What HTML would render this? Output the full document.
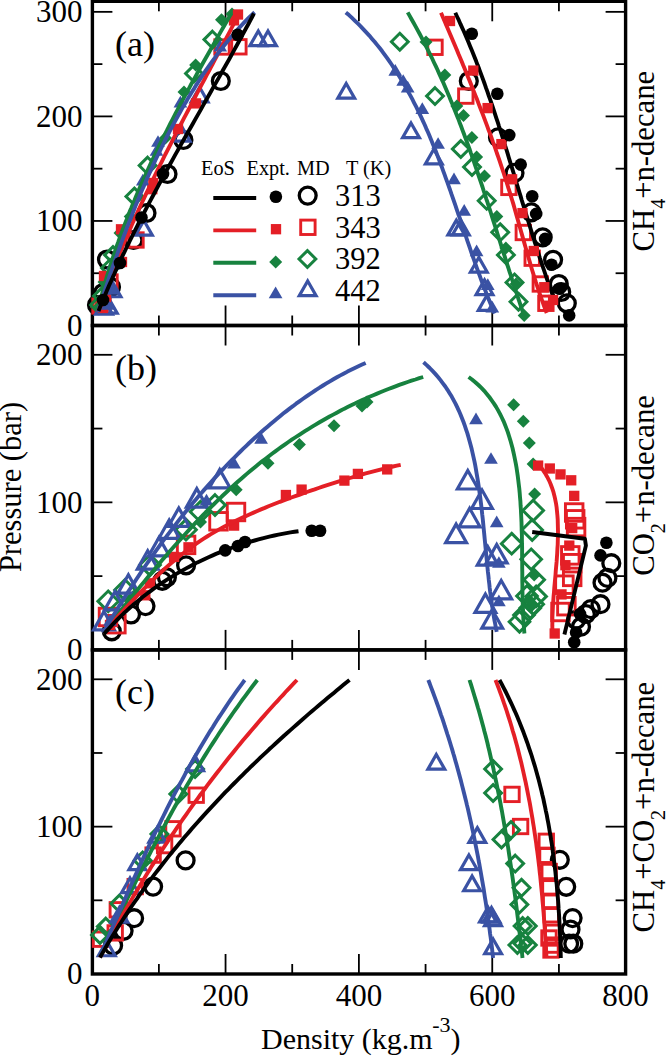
<!DOCTYPE html>
<html><head><meta charset="utf-8"><style>
html,body{margin:0;padding:0;background:#fff;width:666px;height:1056px;overflow:hidden;}
svg{display:block;font-family:"Liberation Serif",serif;}
</style></head><body>
<svg width="666" height="1056" viewBox="0 0 666 1056">
<rect width="666" height="1056" fill="#fff"/>
<rect x="92.4" y="1.3" width="533.2" height="324.2" fill="none" stroke="#000" stroke-width="3.4"/>
<rect x="92.4" y="325.5" width="533.2" height="324.4" fill="none" stroke="#000" stroke-width="3.4"/>
<rect x="92.4" y="649.9" width="533.2" height="324.1" fill="none" stroke="#000" stroke-width="3.4"/>
<line x1="158.88" y1="325.5" x2="158.88" y2="315.5" stroke="#000" stroke-width="1.8"/>
<line x1="158.88" y1="1.3" x2="158.88" y2="11.3" stroke="#000" stroke-width="1.8"/>
<line x1="225.55" y1="325.5" x2="225.55" y2="305.5" stroke="#000" stroke-width="1.8"/>
<line x1="225.55" y1="1.3" x2="225.55" y2="21.3" stroke="#000" stroke-width="1.8"/>
<line x1="292.22" y1="325.5" x2="292.22" y2="315.5" stroke="#000" stroke-width="1.8"/>
<line x1="292.22" y1="1.3" x2="292.22" y2="11.3" stroke="#000" stroke-width="1.8"/>
<line x1="358.90" y1="325.5" x2="358.90" y2="305.5" stroke="#000" stroke-width="1.8"/>
<line x1="358.90" y1="1.3" x2="358.90" y2="21.3" stroke="#000" stroke-width="1.8"/>
<line x1="425.57" y1="325.5" x2="425.57" y2="315.5" stroke="#000" stroke-width="1.8"/>
<line x1="425.57" y1="1.3" x2="425.57" y2="11.3" stroke="#000" stroke-width="1.8"/>
<line x1="492.25" y1="325.5" x2="492.25" y2="305.5" stroke="#000" stroke-width="1.8"/>
<line x1="492.25" y1="1.3" x2="492.25" y2="21.3" stroke="#000" stroke-width="1.8"/>
<line x1="558.92" y1="325.5" x2="558.92" y2="315.5" stroke="#000" stroke-width="1.8"/>
<line x1="558.92" y1="1.3" x2="558.92" y2="11.3" stroke="#000" stroke-width="1.8"/>
<line x1="158.88" y1="649.9" x2="158.88" y2="639.9" stroke="#000" stroke-width="1.8"/>
<line x1="158.88" y1="325.5" x2="158.88" y2="335.5" stroke="#000" stroke-width="1.8"/>
<line x1="225.55" y1="649.9" x2="225.55" y2="629.9" stroke="#000" stroke-width="1.8"/>
<line x1="225.55" y1="325.5" x2="225.55" y2="345.5" stroke="#000" stroke-width="1.8"/>
<line x1="292.22" y1="649.9" x2="292.22" y2="639.9" stroke="#000" stroke-width="1.8"/>
<line x1="292.22" y1="325.5" x2="292.22" y2="335.5" stroke="#000" stroke-width="1.8"/>
<line x1="358.90" y1="649.9" x2="358.90" y2="629.9" stroke="#000" stroke-width="1.8"/>
<line x1="358.90" y1="325.5" x2="358.90" y2="345.5" stroke="#000" stroke-width="1.8"/>
<line x1="425.57" y1="649.9" x2="425.57" y2="639.9" stroke="#000" stroke-width="1.8"/>
<line x1="425.57" y1="325.5" x2="425.57" y2="335.5" stroke="#000" stroke-width="1.8"/>
<line x1="492.25" y1="649.9" x2="492.25" y2="629.9" stroke="#000" stroke-width="1.8"/>
<line x1="492.25" y1="325.5" x2="492.25" y2="345.5" stroke="#000" stroke-width="1.8"/>
<line x1="558.92" y1="649.9" x2="558.92" y2="639.9" stroke="#000" stroke-width="1.8"/>
<line x1="558.92" y1="325.5" x2="558.92" y2="335.5" stroke="#000" stroke-width="1.8"/>
<line x1="158.88" y1="974.0" x2="158.88" y2="964.0" stroke="#000" stroke-width="1.8"/>
<line x1="158.88" y1="649.9" x2="158.88" y2="659.9" stroke="#000" stroke-width="1.8"/>
<line x1="225.55" y1="974.0" x2="225.55" y2="954.0" stroke="#000" stroke-width="1.8"/>
<line x1="225.55" y1="649.9" x2="225.55" y2="669.9" stroke="#000" stroke-width="1.8"/>
<line x1="292.22" y1="974.0" x2="292.22" y2="964.0" stroke="#000" stroke-width="1.8"/>
<line x1="292.22" y1="649.9" x2="292.22" y2="659.9" stroke="#000" stroke-width="1.8"/>
<line x1="358.90" y1="974.0" x2="358.90" y2="954.0" stroke="#000" stroke-width="1.8"/>
<line x1="358.90" y1="649.9" x2="358.90" y2="669.9" stroke="#000" stroke-width="1.8"/>
<line x1="425.57" y1="974.0" x2="425.57" y2="964.0" stroke="#000" stroke-width="1.8"/>
<line x1="425.57" y1="649.9" x2="425.57" y2="659.9" stroke="#000" stroke-width="1.8"/>
<line x1="492.25" y1="974.0" x2="492.25" y2="954.0" stroke="#000" stroke-width="1.8"/>
<line x1="492.25" y1="649.9" x2="492.25" y2="669.9" stroke="#000" stroke-width="1.8"/>
<line x1="558.92" y1="974.0" x2="558.92" y2="964.0" stroke="#000" stroke-width="1.8"/>
<line x1="558.92" y1="649.9" x2="558.92" y2="659.9" stroke="#000" stroke-width="1.8"/>
<line x1="92.4" y1="273.23" x2="102.4" y2="273.23" stroke="#000" stroke-width="1.8"/>
<line x1="625.6" y1="273.23" x2="615.6" y2="273.23" stroke="#000" stroke-width="1.8"/>
<line x1="92.4" y1="220.95" x2="112.4" y2="220.95" stroke="#000" stroke-width="1.8"/>
<line x1="625.6" y1="220.95" x2="605.6" y2="220.95" stroke="#000" stroke-width="1.8"/>
<line x1="92.4" y1="168.67" x2="102.4" y2="168.67" stroke="#000" stroke-width="1.8"/>
<line x1="625.6" y1="168.67" x2="615.6" y2="168.67" stroke="#000" stroke-width="1.8"/>
<line x1="92.4" y1="116.40" x2="112.4" y2="116.40" stroke="#000" stroke-width="1.8"/>
<line x1="625.6" y1="116.40" x2="605.6" y2="116.40" stroke="#000" stroke-width="1.8"/>
<line x1="92.4" y1="64.12" x2="102.4" y2="64.12" stroke="#000" stroke-width="1.8"/>
<line x1="625.6" y1="64.12" x2="615.6" y2="64.12" stroke="#000" stroke-width="1.8"/>
<line x1="92.4" y1="11.85" x2="112.4" y2="11.85" stroke="#000" stroke-width="1.8"/>
<line x1="625.6" y1="11.85" x2="605.6" y2="11.85" stroke="#000" stroke-width="1.8"/>
<line x1="92.4" y1="576.12" x2="102.4" y2="576.12" stroke="#000" stroke-width="1.8"/>
<line x1="625.6" y1="576.12" x2="615.6" y2="576.12" stroke="#000" stroke-width="1.8"/>
<line x1="92.4" y1="502.35" x2="112.4" y2="502.35" stroke="#000" stroke-width="1.8"/>
<line x1="625.6" y1="502.35" x2="605.6" y2="502.35" stroke="#000" stroke-width="1.8"/>
<line x1="92.4" y1="428.57" x2="102.4" y2="428.57" stroke="#000" stroke-width="1.8"/>
<line x1="625.6" y1="428.57" x2="615.6" y2="428.57" stroke="#000" stroke-width="1.8"/>
<line x1="92.4" y1="354.80" x2="112.4" y2="354.80" stroke="#000" stroke-width="1.8"/>
<line x1="625.6" y1="354.80" x2="605.6" y2="354.80" stroke="#000" stroke-width="1.8"/>
<line x1="92.4" y1="900.33" x2="102.4" y2="900.33" stroke="#000" stroke-width="1.8"/>
<line x1="625.6" y1="900.33" x2="615.6" y2="900.33" stroke="#000" stroke-width="1.8"/>
<line x1="92.4" y1="826.65" x2="112.4" y2="826.65" stroke="#000" stroke-width="1.8"/>
<line x1="625.6" y1="826.65" x2="605.6" y2="826.65" stroke="#000" stroke-width="1.8"/>
<line x1="92.4" y1="752.98" x2="102.4" y2="752.98" stroke="#000" stroke-width="1.8"/>
<line x1="625.6" y1="752.98" x2="615.6" y2="752.98" stroke="#000" stroke-width="1.8"/>
<line x1="92.4" y1="679.30" x2="112.4" y2="679.30" stroke="#000" stroke-width="1.8"/>
<line x1="625.6" y1="679.30" x2="605.6" y2="679.30" stroke="#000" stroke-width="1.8"/>
<text x="82.5" y="335.7" font-size="31" text-anchor="end" >0</text>
<text x="82.5" y="231.14999999999998" font-size="31" text-anchor="end" >100</text>
<text x="82.5" y="126.59999999999998" font-size="31" text-anchor="end" >200</text>
<text x="82.5" y="22.049999999999965" font-size="31" text-anchor="end" >300</text>
<text x="82.5" y="660.1" font-size="31" text-anchor="end" >0</text>
<text x="82.5" y="984.2" font-size="31" text-anchor="end" >0</text>
<text x="82.5" y="512.55" font-size="31" text-anchor="end" >100</text>
<text x="82.5" y="836.85" font-size="31" text-anchor="end" >100</text>
<text x="82.5" y="364.99999999999994" font-size="31" text-anchor="end" >200</text>
<text x="82.5" y="689.5" font-size="31" text-anchor="end" >200</text>
<text x="92.2" y="1005.5" font-size="31" text-anchor="middle" >0</text>
<text x="225.55" y="1005.5" font-size="31" text-anchor="middle" >200</text>
<text x="358.9" y="1005.5" font-size="31" text-anchor="middle" >400</text>
<text x="492.24999999999994" y="1005.5" font-size="31" text-anchor="middle" >600</text>
<text x="625.6" y="1005.5" font-size="31" text-anchor="middle" >800</text>
<text x="261" y="1049" font-size="30">Density (kg.m<tspan font-size="22" dy="-17.5" dx="-0.5">-3</tspan><tspan dy="17.5">)</tspan></text>
<text transform="translate(21,487) rotate(-90)" font-size="30.5" text-anchor="middle">Pressure (bar)</text>
<text x="115" y="56" font-size="36" text-anchor="start" >(a)</text>
<text x="115" y="380" font-size="36" text-anchor="start" >(b)</text>
<text x="115" y="704" font-size="36" text-anchor="start" >(c)</text>
<g font-size="20.3">
<text x="201" y="174.6">EoS</text><text x="246.5" y="174.6">Expt.</text><text x="297" y="174.6">MD</text><text x="346" y="174.6">T (K)</text>
</g>
<circle cx="97" cy="305" r="8.45" fill="none" stroke="#000" stroke-width="3.3"/>
<circle cx="103" cy="293" r="8.45" fill="none" stroke="#000" stroke-width="3.3"/>
<circle cx="111" cy="287" r="8.45" fill="none" stroke="#000" stroke-width="3.3"/>
<circle cx="107" cy="259.5" r="8.45" fill="none" stroke="#000" stroke-width="3.3"/>
<circle cx="133.5" cy="240" r="8.45" fill="none" stroke="#000" stroke-width="3.3"/>
<circle cx="146.5" cy="213" r="8.45" fill="none" stroke="#000" stroke-width="3.3"/>
<circle cx="167.5" cy="174" r="8.45" fill="none" stroke="#000" stroke-width="3.3"/>
<circle cx="183.4" cy="140" r="8.45" fill="none" stroke="#000" stroke-width="3.3"/>
<circle cx="220.8" cy="81" r="8.45" fill="none" stroke="#000" stroke-width="3.3"/>
<rect x="95.80" y="298.80" width="14.40" height="14.40" fill="none" stroke="#e41f26" stroke-width="2.9"/>
<rect x="92.80" y="298.80" width="14.40" height="14.40" fill="none" stroke="#e41f26" stroke-width="2.9"/>
<rect x="102.80" y="274.80" width="14.40" height="14.40" fill="none" stroke="#e41f26" stroke-width="2.9"/>
<rect x="128.80" y="232.80" width="14.40" height="14.40" fill="none" stroke="#e41f26" stroke-width="2.9"/>
<rect x="214.80" y="39.80" width="14.40" height="14.40" fill="none" stroke="#e41f26" stroke-width="2.9"/>
<rect x="231.70" y="39.60" width="14.40" height="14.40" fill="none" stroke="#e41f26" stroke-width="2.9"/>
<path d="M99,296.60 L107.40,305 L99,313.40 L90.60,305Z" fill="none" stroke="#17823f" stroke-width="3"/>
<path d="M102,287.60 L110.40,296 L102,304.40 L93.60,296Z" fill="none" stroke="#17823f" stroke-width="3"/>
<path d="M110,259.60 L118.40,268 L110,276.40 L101.60,268Z" fill="none" stroke="#17823f" stroke-width="3"/>
<path d="M113,246.60 L121.40,255 L113,263.40 L104.60,255Z" fill="none" stroke="#17823f" stroke-width="3"/>
<path d="M134.4,188.10 L142.80,196.5 L134.4,204.90 L126.00,196.5Z" fill="none" stroke="#17823f" stroke-width="3"/>
<path d="M147.6,157.20 L156.00,165.6 L147.6,174.00 L139.20,165.6Z" fill="none" stroke="#17823f" stroke-width="3"/>
<path d="M194,65.10 L202.40,73.5 L194,81.90 L185.60,73.5Z" fill="none" stroke="#17823f" stroke-width="3"/>
<path d="M212.4,31.20 L220.80,39.6 L212.4,48.00 L204.00,39.6Z" fill="none" stroke="#17823f" stroke-width="3"/>
<path d="M104,299.45 L112.40,314.15 L95.60,314.15Z" fill="none" stroke="#3a52a4" stroke-width="3.2" stroke-miterlimit="10"/>
<path d="M108.8,298.45 L117.20,313.15 L100.40,313.15Z" fill="none" stroke="#3a52a4" stroke-width="3.2" stroke-miterlimit="10"/>
<path d="M112.5,282.05 L120.90,296.75 L104.10,296.75Z" fill="none" stroke="#3a52a4" stroke-width="3.2" stroke-miterlimit="10"/>
<path d="M143.9,220.45 L152.30,235.15 L135.50,235.15Z" fill="none" stroke="#3a52a4" stroke-width="3.2" stroke-miterlimit="10"/>
<path d="M181.6,126.35 L190.00,141.05 L173.20,141.05Z" fill="none" stroke="#3a52a4" stroke-width="3.2" stroke-miterlimit="10"/>
<path d="M199.6,87.25 L208.00,101.95 L191.20,101.95Z" fill="none" stroke="#3a52a4" stroke-width="3.2" stroke-miterlimit="10"/>
<path d="M258.3,30.95 L266.70,45.65 L249.90,45.65Z" fill="none" stroke="#3a52a4" stroke-width="3.2" stroke-miterlimit="10"/>
<path d="M268,30.95 L276.40,45.65 L259.60,45.65Z" fill="none" stroke="#3a52a4" stroke-width="3.2" stroke-miterlimit="10"/>
<path d="M100,299.50 L106.50,306 L100,312.50 L93.50,306Z" fill="#17823f"/>
<path d="M104,275.50 L110.50,282 L104,288.50 L97.50,282Z" fill="#17823f"/>
<path d="M120,226.50 L126.50,233 L120,239.50 L113.50,233Z" fill="#17823f"/>
<path d="M130.2,210.00 L136.70,216.5 L130.2,223.00 L123.70,216.5Z" fill="#17823f"/>
<path d="M165.5,131.50 L172.00,138 L165.5,144.50 L159.00,138Z" fill="#17823f"/>
<path d="M184,85.50 L190.50,92 L184,98.50 L177.50,92Z" fill="#17823f"/>
<path d="M195.6,58.40 L202.10,64.9 L195.6,71.40 L189.10,64.9Z" fill="#17823f"/>
<path d="M221.5,13.30 L228.00,19.8 L221.5,26.30 L215.00,19.8Z" fill="#17823f"/>
<path d="M232,7.50 L238.50,14 L232,20.50 L225.50,14Z" fill="#17823f"/>
<rect x="97.85" y="302.85" width="10.3" height="10.3" fill="#e41f26"/>
<rect x="100.85" y="291.85" width="10.3" height="10.3" fill="#e41f26"/>
<rect x="98.85" y="270.85" width="10.3" height="10.3" fill="#e41f26"/>
<rect x="115.85" y="224.15" width="10.3" height="10.3" fill="#e41f26"/>
<rect x="116.85" y="256.85" width="10.3" height="10.3" fill="#e41f26"/>
<rect x="148.15" y="177.85" width="10.3" height="10.3" fill="#e41f26"/>
<rect x="147.15" y="184.05" width="10.3" height="10.3" fill="#e41f26"/>
<rect x="190.85" y="98.25" width="10.3" height="10.3" fill="#e41f26"/>
<rect x="172.85" y="123.85" width="10.3" height="10.3" fill="#e41f26"/>
<rect x="228.85" y="15.25" width="10.3" height="10.3" fill="#e41f26"/>
<rect x="232.85" y="9.35" width="10.3" height="10.3" fill="#e41f26"/>
<path d="M107.6,298.15 L114.45,309.85 L100.75,309.85Z" fill="#3a52a4"/>
<path d="M113,283.15 L119.85,294.85 L106.15,294.85Z" fill="#3a52a4"/>
<path d="M112.8,258.15 L119.65,269.85 L105.95,269.85Z" fill="#3a52a4"/>
<path d="M142.8,173.85 L149.65,185.55 L135.95,185.55Z" fill="#3a52a4"/>
<path d="M158,135.15 L164.85,146.85 L151.15,146.85Z" fill="#3a52a4"/>
<path d="M156.5,144.15 L163.35,155.85 L149.65,155.85Z" fill="#3a52a4"/>
<path d="M180.4,95.75 L187.25,107.45 L173.55,107.45Z" fill="#3a52a4"/>
<path d="M220.2,39.75 L227.05,51.45 L213.35,51.45Z" fill="#3a52a4"/>
<path d="M97.5,312.0 L98.5,308.0 L99.4,304.1 L100.4,300.1 L101.5,296.2 L102.5,292.2 L103.6,288.3 L104.7,284.4 L105.8,280.5 L106.9,276.6 L108.1,272.7 L109.3,268.8 L110.5,265.0 L111.8,261.1 L113.0,257.2 L114.3,253.4 L115.6,249.6 L116.9,245.7 L118.3,241.9 L119.6,238.1 L121.0,234.3 L122.4,230.5 L123.9,226.7 L125.3,222.9 L126.8,219.2 L128.2,215.4 L129.7,211.6 L131.3,207.9 L132.8,204.1 L134.4,200.4 L135.9,196.7 L137.5,193.0 L139.1,189.2 L140.7,185.5 L142.4,181.8 L144.0,178.1 L145.7,174.5 L147.4,170.8 L149.1,167.1 L150.8,163.4 L152.5,159.8 L154.2,156.1 L156.0,152.5 L157.8,148.8 L159.5,145.2 L161.3,141.5 L163.1,137.9 L164.9,134.3 L166.8,130.7 L168.6,127.0 L170.4,123.4 L172.3,119.8 L174.2,116.2 L176.0,112.6 L177.9,109.1 L179.8,105.5 L181.7,101.9 L183.6,98.3 L185.5,94.7 L187.5,91.2 L189.4,87.6 L191.3,84.0 L193.3,80.5 L195.3,76.9 L197.2,73.4 L199.2,69.8 L201.2,66.3 L203.1,62.8 L205.1,59.2 L207.1,55.7 L209.1,52.2 L211.1,48.6 L213.1,45.1 L215.1,41.6 L217.1,38.1 L219.1,34.6 L221.1,31.1 L223.2,27.5 L225.2,24.0 L227.2,20.5 L229.2,17.0 L231.2,13.5" fill="none" stroke="#17823f" stroke-width="3.9" stroke-linejoin="round"/>
<path d="M98.0,312.0 L99.3,308.1 L100.6,304.2 L101.9,300.4 L103.3,296.5 L104.6,292.7 L106.0,288.8 L107.4,285.0 L108.8,281.2 L110.3,277.3 L111.7,273.5 L113.2,269.7 L114.7,265.9 L116.2,262.1 L117.7,258.3 L119.2,254.5 L120.8,250.8 L122.4,247.0 L123.9,243.2 L125.5,239.5 L127.1,235.7 L128.7,232.0 L130.4,228.3 L132.0,224.5 L133.7,220.8 L135.3,217.1 L137.0,213.4 L138.7,209.7 L140.4,206.0 L142.1,202.3 L143.9,198.6 L145.6,194.9 L147.4,191.2 L149.1,187.5 L150.9,183.8 L152.7,180.1 L154.4,176.5 L156.2,172.8 L158.0,169.2 L159.8,165.5 L161.7,161.8 L163.5,158.2 L165.3,154.5 L167.2,150.9 L169.0,147.3 L170.9,143.6 L172.7,140.0 L174.6,136.3 L176.4,132.7 L178.3,129.1 L180.2,125.5 L182.1,121.8 L184.0,118.2 L185.9,114.6 L187.8,111.0 L189.7,107.4 L191.6,103.7 L193.5,100.1 L195.4,96.5 L197.3,92.9 L199.2,89.3 L201.1,85.7 L203.0,82.1 L204.9,78.5 L206.8,74.9 L208.8,71.3 L210.7,67.6 L212.6,64.0 L214.5,60.4 L216.4,56.8 L218.3,53.2 L220.2,49.6 L222.1,46.0 L224.0,42.4 L226.0,38.8 L227.9,35.2 L229.8,31.6 L231.6,28.0 L233.5,24.3 L235.4,20.7 L237.3,17.1 L239.2,13.5" fill="none" stroke="#e41f26" stroke-width="3.9" stroke-linejoin="round"/>
<path d="M98.0,312.0 L99.2,308.2 L100.4,304.4 L101.6,300.6 L102.8,296.8 L104.1,293.0 L105.3,289.2 L106.6,285.3 L107.8,281.5 L109.1,277.7 L110.4,273.9 L111.7,270.0 L113.0,266.2 L114.4,262.4 L115.7,258.5 L117.1,254.7 L118.4,250.8 L119.8,247.0 L121.2,243.2 L122.6,239.3 L124.0,235.5 L125.5,231.7 L126.9,227.8 L128.4,224.0 L129.9,220.2 L131.4,216.4 L132.9,212.5 L134.4,208.7 L135.9,204.9 L137.5,201.1 L139.1,197.3 L140.6,193.5 L142.2,189.7 L143.9,186.0 L145.5,182.2 L147.1,178.4 L148.8,174.7 L150.5,170.9 L152.2,167.2 L153.9,163.4 L155.6,159.7 L157.4,156.0 L159.2,152.3 L161.0,148.6 L162.8,145.0 L164.6,141.3 L166.4,137.6 L168.3,134.0 L170.2,130.4 L172.1,126.8 L174.0,123.2 L176.0,119.6 L177.9,116.0 L179.9,112.5 L181.9,108.9 L183.9,105.4 L186.0,101.9 L188.0,98.4 L190.1,94.9 L192.2,91.5 L194.4,88.1 L196.5,84.6 L198.7,81.2 L200.9,77.9 L203.1,74.5 L205.3,71.2 L207.6,67.9 L209.9,64.6 L212.2,61.3 L214.6,58.1 L216.9,54.8 L219.4,51.6 L221.8,48.4 L224.3,45.3 L226.8,42.2 L229.4,39.0 L232.0,36.0 L234.6,32.9 L237.3,29.9 L240.1,26.9 L242.9,23.9 L245.7,20.9 L248.6,18.0 L251.6,15.1 L254.6,12.3" fill="none" stroke="#3a52a4" stroke-width="3.9" stroke-linejoin="round"/>
<path d="M98.5,311.0 L100.0,307.2 L101.5,303.5 L103.1,299.7 L104.7,296.0 L106.2,292.2 L107.8,288.5 L109.4,284.8 L111.1,281.1 L112.7,277.4 L114.4,273.7 L116.0,270.0 L117.7,266.3 L119.4,262.6 L121.1,259.0 L122.8,255.3 L124.6,251.7 L126.3,248.0 L128.1,244.4 L129.9,240.7 L131.7,237.1 L133.5,233.5 L135.3,229.9 L137.1,226.3 L138.9,222.6 L140.8,219.0 L142.6,215.4 L144.5,211.9 L146.3,208.3 L148.2,204.7 L150.1,201.1 L152.0,197.5 L153.9,194.0 L155.8,190.4 L157.7,186.8 L159.6,183.3 L161.6,179.7 L163.5,176.2 L165.4,172.6 L167.4,169.1 L169.3,165.5 L171.3,162.0 L173.3,158.4 L175.2,154.9 L177.2,151.4 L179.2,147.8 L181.1,144.3 L183.1,140.8 L185.1,137.3 L187.1,133.7 L189.1,130.2 L191.1,126.7 L193.1,123.2 L195.1,119.6 L197.1,116.1 L199.1,112.6 L201.1,109.1 L203.0,105.6 L205.0,102.0 L207.0,98.5 L209.0,95.0 L211.0,91.5 L213.0,87.9 L215.0,84.4 L217.0,80.9 L219.0,77.4 L221.0,73.8 L222.9,70.3 L224.9,66.8 L226.9,63.2 L228.9,59.7 L230.8,56.2 L232.8,52.6 L234.7,49.1 L236.7,45.5 L238.6,42.0 L240.6,38.4 L242.5,34.9 L244.4,31.3 L246.3,27.8 L248.3,24.2 L250.2,20.6 L252.1,17.0 L253.9,13.5" fill="none" stroke="#000" stroke-width="3.9" stroke-linejoin="round"/>
<circle cx="103" cy="300" r="6.3" fill="#000"/>
<circle cx="120" cy="263" r="6.3" fill="#000"/>
<circle cx="141.5" cy="217.5" r="6.3" fill="#000"/>
<circle cx="163" cy="174" r="6.3" fill="#000"/>
<circle cx="237.7" cy="34.8" r="6.3" fill="#000"/>
<circle cx="468.8" cy="81" r="8.45" fill="none" stroke="#000" stroke-width="3.3"/>
<circle cx="498" cy="137.4" r="8.45" fill="none" stroke="#000" stroke-width="3.3"/>
<circle cx="514.5" cy="172.9" r="8.45" fill="none" stroke="#000" stroke-width="3.3"/>
<circle cx="531.4" cy="212.3" r="8.45" fill="none" stroke="#000" stroke-width="3.3"/>
<circle cx="542.7" cy="237.3" r="8.45" fill="none" stroke="#000" stroke-width="3.3"/>
<circle cx="553.1" cy="259.8" r="8.45" fill="none" stroke="#000" stroke-width="3.3"/>
<circle cx="558.8" cy="284" r="8.45" fill="none" stroke="#000" stroke-width="3.3"/>
<circle cx="561.2" cy="292" r="8.45" fill="none" stroke="#000" stroke-width="3.3"/>
<circle cx="566.8" cy="303.3" r="8.45" fill="none" stroke="#000" stroke-width="3.3"/>
<rect x="427.80" y="40.10" width="14.40" height="14.40" fill="none" stroke="#e41f26" stroke-width="2.9"/>
<rect x="458.60" y="88.90" width="14.40" height="14.40" fill="none" stroke="#e41f26" stroke-width="2.9"/>
<rect x="501.70" y="180.20" width="14.40" height="14.40" fill="none" stroke="#e41f26" stroke-width="2.9"/>
<rect x="516.10" y="225.30" width="14.40" height="14.40" fill="none" stroke="#e41f26" stroke-width="2.9"/>
<rect x="525.00" y="251.00" width="14.40" height="14.40" fill="none" stroke="#e41f26" stroke-width="2.9"/>
<rect x="533.10" y="276.80" width="14.40" height="14.40" fill="none" stroke="#e41f26" stroke-width="2.9"/>
<rect x="538.70" y="296.10" width="14.40" height="14.40" fill="none" stroke="#e41f26" stroke-width="2.9"/>
<path d="M399.8,33.30 L408.20,41.7 L399.8,50.10 L391.40,41.7Z" fill="none" stroke="#17823f" stroke-width="3"/>
<path d="M435,87.70 L443.40,96.1 L435,104.50 L426.60,96.1Z" fill="none" stroke="#17823f" stroke-width="3"/>
<path d="M460.8,140.60 L469.20,149 L460.8,157.40 L452.40,149Z" fill="none" stroke="#17823f" stroke-width="3"/>
<path d="M472,158.60 L480.40,167 L472,175.40 L463.60,167Z" fill="none" stroke="#17823f" stroke-width="3"/>
<path d="M486.7,192.40 L495.10,200.8 L486.7,209.20 L478.30,200.8Z" fill="none" stroke="#17823f" stroke-width="3"/>
<path d="M500.2,223.90 L508.60,232.3 L500.2,240.70 L491.80,232.3Z" fill="none" stroke="#17823f" stroke-width="3"/>
<path d="M505.9,246.50 L514.30,254.9 L505.9,263.30 L497.50,254.9Z" fill="none" stroke="#17823f" stroke-width="3"/>
<path d="M514.5,274.00 L522.90,282.4 L514.5,290.80 L506.10,282.4Z" fill="none" stroke="#17823f" stroke-width="3"/>
<path d="M518.5,293.30 L526.90,301.7 L518.5,310.10 L510.10,301.7Z" fill="none" stroke="#17823f" stroke-width="3"/>
<path d="M346.2,83.45 L354.60,98.15 L337.80,98.15Z" fill="none" stroke="#3a52a4" stroke-width="3.2" stroke-miterlimit="10"/>
<path d="M411,122.95 L419.40,137.65 L402.60,137.65Z" fill="none" stroke="#3a52a4" stroke-width="3.2" stroke-miterlimit="10"/>
<path d="M433.8,149.25 L442.20,163.95 L425.40,163.95Z" fill="none" stroke="#3a52a4" stroke-width="3.2" stroke-miterlimit="10"/>
<path d="M456.3,220.15 L464.70,234.85 L447.90,234.85Z" fill="none" stroke="#3a52a4" stroke-width="3.2" stroke-miterlimit="10"/>
<path d="M460.8,220.15 L469.20,234.85 L452.40,234.85Z" fill="none" stroke="#3a52a4" stroke-width="3.2" stroke-miterlimit="10"/>
<path d="M478.8,257.35 L487.20,272.05 L470.40,272.05Z" fill="none" stroke="#3a52a4" stroke-width="3.2" stroke-miterlimit="10"/>
<path d="M484.5,279.85 L492.90,294.55 L476.10,294.55Z" fill="none" stroke="#3a52a4" stroke-width="3.2" stroke-miterlimit="10"/>
<path d="M486.7,295.65 L495.10,310.35 L478.30,310.35Z" fill="none" stroke="#3a52a4" stroke-width="3.2" stroke-miterlimit="10"/>
<path d="M407.7,12.4 L409.7,15.9 L411.7,19.5 L413.7,23.0 L415.7,26.6 L417.6,30.1 L419.6,33.7 L421.5,37.3 L423.3,40.9 L425.2,44.5 L427.0,48.1 L428.8,51.8 L430.6,55.4 L432.4,59.0 L434.1,62.7 L435.9,66.4 L437.6,70.0 L439.2,73.7 L440.9,77.4 L442.6,81.1 L444.2,84.8 L445.8,88.5 L447.4,92.2 L449.0,95.9 L450.5,99.7 L452.1,103.4 L453.6,107.2 L455.1,110.9 L456.6,114.7 L458.1,118.4 L459.5,122.2 L461.0,126.0 L462.4,129.8 L463.8,133.5 L465.2,137.3 L466.6,141.1 L468.0,144.9 L469.4,148.7 L470.7,152.6 L472.1,156.4 L473.4,160.2 L474.7,164.0 L476.0,167.8 L477.3,171.7 L478.6,175.5 L479.9,179.3 L481.2,183.2 L482.5,187.0 L483.7,190.9 L485.0,194.7 L486.2,198.6 L487.5,202.4 L488.7,206.3 L490.0,210.1 L491.2,214.0 L492.4,217.8 L493.6,221.7 L494.9,225.6 L496.1,229.4 L497.3,233.3 L498.5,237.1 L499.8,241.0 L501.0,244.9 L502.2,248.7 L503.4,252.6 L504.7,256.4 L505.9,260.3 L507.1,264.2 L508.4,268.0 L509.6,271.9 L510.9,275.7 L512.1,279.6 L513.4,283.4 L514.6,287.3 L515.9,291.1 L517.2,295.0 L518.4,298.8 L519.7,302.7 L521.0,306.5 L522.3,310.3 L523.7,314.2 L525.0,318.0" fill="none" stroke="#17823f" stroke-width="3.9" stroke-linejoin="round"/>
<path d="M441.0,12.8 L442.6,16.5 L444.2,20.2 L445.8,24.0 L447.4,27.7 L449.0,31.4 L450.6,35.2 L452.2,38.9 L453.8,42.7 L455.4,46.4 L457.0,50.2 L458.5,54.0 L460.1,57.7 L461.7,61.5 L463.2,65.3 L464.8,69.1 L466.4,72.9 L467.9,76.7 L469.5,80.5 L471.0,84.3 L472.5,88.1 L474.0,91.9 L475.5,95.7 L477.1,99.6 L478.5,103.4 L480.0,107.2 L481.5,111.1 L483.0,114.9 L484.4,118.7 L485.9,122.6 L487.3,126.4 L488.7,130.3 L490.2,134.1 L491.6,138.0 L492.9,141.9 L494.3,145.7 L495.7,149.6 L497.0,153.5 L498.4,157.3 L499.7,161.2 L501.0,165.1 L502.3,169.0 L503.6,172.8 L504.8,176.7 L506.1,180.6 L507.3,184.5 L508.5,188.4 L509.8,192.3 L510.9,196.2 L512.1,200.0 L513.3,203.9 L514.4,207.8 L515.5,211.7 L516.6,215.6 L517.7,219.5 L518.8,223.4 L519.9,227.3 L521.0,231.2 L522.1,235.1 L523.2,239.0 L524.3,242.9 L525.4,246.8 L526.5,250.7 L527.6,254.6 L528.8,258.5 L529.9,262.4 L531.0,266.3 L532.2,270.2 L533.4,274.1 L534.6,278.0 L535.8,281.9 L537.1,285.8 L538.4,289.7 L539.7,293.6 L541.0,297.5 L542.4,301.4 L543.8,305.3 L545.2,309.1 L546.7,313.0" fill="none" stroke="#e41f26" stroke-width="3.9" stroke-linejoin="round"/>
<path d="M345.8,12.4 L349.0,15.1 L352.0,17.9 L355.0,20.8 L358.0,23.7 L360.9,26.6 L363.7,29.6 L366.5,32.6 L369.3,35.6 L371.9,38.7 L374.6,41.8 L377.1,44.9 L379.7,48.1 L382.2,51.3 L384.6,54.6 L387.0,57.8 L389.3,61.1 L391.6,64.5 L393.8,67.8 L396.1,71.2 L398.2,74.6 L400.3,78.0 L402.4,81.5 L404.5,85.0 L406.5,88.5 L408.4,92.1 L410.4,95.6 L412.3,99.2 L414.1,102.8 L416.0,106.4 L417.8,110.1 L419.5,113.7 L421.3,117.4 L423.0,121.1 L424.7,124.8 L426.3,128.6 L428.0,132.3 L429.6,136.1 L431.2,139.9 L432.7,143.7 L434.3,147.5 L435.8,151.3 L437.3,155.1 L438.8,159.0 L440.2,162.8 L441.7,166.7 L443.1,170.6 L444.5,174.4 L445.9,178.3 L447.3,182.2 L448.7,186.1 L450.1,190.0 L451.4,193.9 L452.8,197.8 L454.1,201.7 L455.5,205.7 L456.8,209.6 L458.1,213.5 L459.5,217.4 L460.8,221.3 L462.1,225.3 L463.4,229.2 L464.8,233.1 L466.1,237.0 L467.4,240.9 L468.8,244.8 L470.1,248.7 L471.4,252.6 L472.8,256.5 L474.2,260.3 L475.5,264.2 L476.9,268.1 L478.3,271.9 L479.7,275.7 L481.1,279.6 L482.5,283.4 L484.0,287.2 L485.5,291.0 L486.9,294.7 L488.4,298.5 L489.9,302.2 L491.5,306.0 L493.0,309.7 L494.6,313.4" fill="none" stroke="#3a52a4" stroke-width="3.9" stroke-linejoin="round"/>
<path d="M455.3,12.8 L457.0,16.5 L458.8,20.2 L460.4,23.9 L462.1,27.6 L463.8,31.3 L465.4,35.0 L467.0,38.7 L468.6,42.5 L470.1,46.2 L471.7,50.0 L473.2,53.7 L474.7,57.5 L476.2,61.3 L477.6,65.1 L479.1,68.8 L480.5,72.6 L481.9,76.4 L483.3,80.2 L484.7,84.0 L486.0,87.9 L487.4,91.7 L488.7,95.5 L490.1,99.3 L491.4,103.2 L492.7,107.0 L494.0,110.9 L495.2,114.7 L496.5,118.6 L497.8,122.4 L499.0,126.3 L500.3,130.1 L501.5,134.0 L502.7,137.9 L503.9,141.7 L505.1,145.6 L506.4,149.5 L507.6,153.4 L508.7,157.2 L509.9,161.1 L511.1,165.0 L512.3,168.9 L513.5,172.8 L514.7,176.7 L515.8,180.5 L517.0,184.4 L518.2,188.3 L519.4,192.2 L520.6,196.1 L521.7,200.0 L522.9,203.9 L524.1,207.7 L525.3,211.6 L526.5,215.5 L527.7,219.4 L528.9,223.3 L530.1,227.1 L531.3,231.0 L532.5,234.9 L533.7,238.8 L534.9,242.6 L536.2,246.5 L537.4,250.4 L538.7,254.2 L539.9,258.1 L541.2,261.9 L542.5,265.8 L543.8,269.6 L545.1,273.5 L546.4,277.3 L547.7,281.1 L549.1,284.9 L550.4,288.8 L551.8,292.6 L553.2,296.4 L554.6,300.2 L556.0,304.0" fill="none" stroke="#000" stroke-width="3.9" stroke-linejoin="round"/>
<path d="M426,35.50 L432.50,42 L426,48.50 L419.50,42Z" fill="#17823f"/>
<path d="M444.8,68.50 L451.30,75 L444.8,81.50 L438.30,75Z" fill="#17823f"/>
<path d="M456.8,99.40 L463.30,105.9 L456.8,112.40 L450.30,105.9Z" fill="#17823f"/>
<path d="M463.5,109.10 L470.00,115.6 L463.5,122.10 L457.00,115.6Z" fill="#17823f"/>
<path d="M471.9,130.90 L478.40,137.4 L471.9,143.90 L465.40,137.4Z" fill="#17823f"/>
<path d="M476.6,150.40 L483.10,156.9 L476.6,163.40 L470.10,156.9Z" fill="#17823f"/>
<path d="M484.5,169.50 L491.00,176 L484.5,182.50 L478.00,176Z" fill="#17823f"/>
<path d="M496.8,210.10 L503.30,216.6 L496.8,223.10 L490.30,216.6Z" fill="#17823f"/>
<path d="M505.9,241.60 L512.40,248.1 L505.9,254.60 L499.40,248.1Z" fill="#17823f"/>
<path d="M516,277.60 L522.50,284.1 L516,290.60 L509.50,284.1Z" fill="#17823f"/>
<path d="M524.2,308.90 L530.70,315.4 L524.2,321.90 L517.70,315.4Z" fill="#17823f"/>
<rect x="444.85" y="15.85" width="10.3" height="10.3" fill="#e41f26"/>
<rect x="468.15" y="65.45" width="10.3" height="10.3" fill="#e41f26"/>
<rect x="482.45" y="102.95" width="10.3" height="10.3" fill="#e41f26"/>
<rect x="496.25" y="138.95" width="10.3" height="10.3" fill="#e41f26"/>
<rect x="506.95" y="174.15" width="10.3" height="10.3" fill="#e41f26"/>
<rect x="517.35" y="207.95" width="10.3" height="10.3" fill="#e41f26"/>
<rect x="528.65" y="245.85" width="10.3" height="10.3" fill="#e41f26"/>
<rect x="539.15" y="282.05" width="10.3" height="10.3" fill="#e41f26"/>
<rect x="543.15" y="300.55" width="10.3" height="10.3" fill="#e41f26"/>
<rect x="547.95" y="294.85" width="10.3" height="10.3" fill="#e41f26"/>
<path d="M395.3,63.95 L402.15,75.65 L388.45,75.65Z" fill="#3a52a4"/>
<path d="M403.2,74.15 L410.05,85.85 L396.35,85.85Z" fill="#3a52a4"/>
<path d="M407.7,80.85 L414.55,92.55 L400.85,92.55Z" fill="#3a52a4"/>
<path d="M422.3,102.25 L429.15,113.95 L415.45,113.95Z" fill="#3a52a4"/>
<path d="M438.1,137.15 L444.95,148.85 L431.25,148.85Z" fill="#3a52a4"/>
<path d="M454,172.45 L460.85,184.15 L447.15,184.15Z" fill="#3a52a4"/>
<path d="M464.2,203.95 L471.05,215.65 L457.35,215.65Z" fill="#3a52a4"/>
<path d="M476.6,244.55 L483.45,256.25 L469.75,256.25Z" fill="#3a52a4"/>
<path d="M487.8,278.25 L494.65,289.95 L480.95,289.95Z" fill="#3a52a4"/>
<path d="M492.3,300.85 L499.15,312.55 L485.45,312.55Z" fill="#3a52a4"/>
<circle cx="471.8" cy="33.8" r="6.3" fill="#000"/>
<circle cx="497.3" cy="93.8" r="6.3" fill="#000"/>
<circle cx="509.3" cy="135.1" r="6.3" fill="#000"/>
<circle cx="520.7" cy="164.6" r="6.3" fill="#000"/>
<circle cx="532.2" cy="196.2" r="6.3" fill="#000"/>
<circle cx="536.2" cy="213.9" r="6.3" fill="#000"/>
<circle cx="545.1" cy="238.9" r="6.3" fill="#000"/>
<circle cx="551.5" cy="264.7" r="6.3" fill="#000"/>
<circle cx="559.6" cy="288.8" r="6.3" fill="#000"/>
<circle cx="569.2" cy="315.4" r="6.3" fill="#000"/>
<circle cx="111.8" cy="631.3" r="8.45" fill="none" stroke="#000" stroke-width="3.3"/>
<circle cx="131" cy="614.5" r="8.45" fill="none" stroke="#000" stroke-width="3.3"/>
<circle cx="145.5" cy="606.1" r="8.45" fill="none" stroke="#000" stroke-width="3.3"/>
<circle cx="162.3" cy="580.8" r="8.45" fill="none" stroke="#000" stroke-width="3.3"/>
<circle cx="166.9" cy="577.3" r="8.45" fill="none" stroke="#000" stroke-width="3.3"/>
<circle cx="186.1" cy="565.3" r="8.45" fill="none" stroke="#000" stroke-width="3.3"/>
<rect x="99.24" y="608.24" width="17.51" height="17.51" fill="none" stroke="#e41f26" stroke-width="2.9"/>
<rect x="107.64" y="615.44" width="17.51" height="17.51" fill="none" stroke="#e41f26" stroke-width="2.9"/>
<rect x="177.34" y="536.14" width="17.51" height="17.51" fill="none" stroke="#e41f26" stroke-width="2.9"/>
<rect x="209.74" y="512.54" width="17.51" height="17.51" fill="none" stroke="#e41f26" stroke-width="2.9"/>
<rect x="227.24" y="503.24" width="17.51" height="17.51" fill="none" stroke="#e41f26" stroke-width="2.9"/>
<path d="M108.2,591.01 L118.49,601.3 L108.2,611.59 L97.91,601.3Z" fill="none" stroke="#17823f" stroke-width="3"/>
<path d="M125,579.71 L135.29,590 L125,600.29 L114.71,590Z" fill="none" stroke="#17823f" stroke-width="3"/>
<path d="M150,554.71 L160.29,565 L150,575.29 L139.71,565Z" fill="none" stroke="#17823f" stroke-width="3"/>
<path d="M186,519.41 L196.29,529.7 L186,539.99 L175.71,529.7Z" fill="none" stroke="#17823f" stroke-width="3"/>
<path d="M200.5,501.41 L210.79,511.7 L200.5,521.99 L190.21,511.7Z" fill="none" stroke="#17823f" stroke-width="3"/>
<path d="M215,494.71 L225.29,505 L215,515.29 L204.71,505Z" fill="none" stroke="#17823f" stroke-width="3"/>
<path d="M104,611.41 L114.41,629.90 L93.59,629.90Z" fill="none" stroke="#3a52a4" stroke-width="3.2" stroke-miterlimit="10"/>
<path d="M115,591.41 L125.41,609.90 L104.59,609.90Z" fill="none" stroke="#3a52a4" stroke-width="3.2" stroke-miterlimit="10"/>
<path d="M128.4,574.71 L138.81,593.20 L117.99,593.20Z" fill="none" stroke="#3a52a4" stroke-width="3.2" stroke-miterlimit="10"/>
<path d="M147.7,550.71 L158.11,569.20 L137.29,569.20Z" fill="none" stroke="#3a52a4" stroke-width="3.2" stroke-miterlimit="10"/>
<path d="M159,537.41 L169.41,555.90 L148.59,555.90Z" fill="none" stroke="#3a52a4" stroke-width="3.2" stroke-miterlimit="10"/>
<path d="M169.2,519.91 L179.61,538.40 L158.79,538.40Z" fill="none" stroke="#3a52a4" stroke-width="3.2" stroke-miterlimit="10"/>
<path d="M178.8,507.91 L189.21,526.40 L168.39,526.40Z" fill="none" stroke="#3a52a4" stroke-width="3.2" stroke-miterlimit="10"/>
<path d="M196.8,488.61 L207.21,507.10 L186.39,507.10Z" fill="none" stroke="#3a52a4" stroke-width="3.2" stroke-miterlimit="10"/>
<path d="M219.7,469.41 L230.11,487.90 L209.29,487.90Z" fill="none" stroke="#3a52a4" stroke-width="3.2" stroke-miterlimit="10"/>
<path d="M200.5,515.50 L207.00,522 L200.5,528.50 L194.00,522Z" fill="#17823f"/>
<path d="M236.2,483.20 L242.70,489.7 L236.2,496.20 L229.70,489.7Z" fill="#17823f"/>
<path d="M268,456.70 L274.50,463.2 L268,469.70 L261.50,463.2Z" fill="#17823f"/>
<path d="M299.4,438.10 L305.90,444.6 L299.4,451.10 L292.90,444.6Z" fill="#17823f"/>
<path d="M334,419.20 L340.50,425.7 L334,432.20 L327.50,425.7Z" fill="#17823f"/>
<path d="M362,399.50 L368.50,406 L362,412.50 L355.50,406Z" fill="#17823f"/>
<path d="M367,395.50 L373.50,402 L367,408.50 L360.50,402Z" fill="#17823f"/>
<rect x="104.85" y="619.85" width="10.3" height="10.3" fill="#e41f26"/>
<rect x="140.15" y="590.15" width="10.3" height="10.3" fill="#e41f26"/>
<rect x="144.85" y="578.15" width="10.3" height="10.3" fill="#e41f26"/>
<rect x="168.95" y="551.75" width="10.3" height="10.3" fill="#e41f26"/>
<rect x="183.35" y="542.15" width="10.3" height="10.3" fill="#e41f26"/>
<rect x="228.95" y="520.45" width="10.3" height="10.3" fill="#e41f26"/>
<rect x="280.75" y="489.85" width="10.3" height="10.3" fill="#e41f26"/>
<rect x="296.45" y="484.45" width="10.3" height="10.3" fill="#e41f26"/>
<rect x="339.25" y="475.45" width="10.3" height="10.3" fill="#e41f26"/>
<rect x="352.75" y="468.75" width="10.3" height="10.3" fill="#e41f26"/>
<rect x="382.05" y="464.25" width="10.3" height="10.3" fill="#e41f26"/>
<path d="M110,614.15 L116.85,625.85 L103.15,625.85Z" fill="#3a52a4"/>
<path d="M206.5,493.75 L213.35,505.45 L199.65,505.45Z" fill="#3a52a4"/>
<path d="M234,456.75 L240.85,468.45 L227.15,468.45Z" fill="#3a52a4"/>
<path d="M261.1,431.95 L267.95,443.65 L254.25,443.65Z" fill="#3a52a4"/>
<path d="M103.0,633.0 L105.5,629.9 L108.0,626.7 L110.5,623.5 L113.1,620.4 L115.6,617.2 L118.1,614.0 L120.6,610.8 L123.1,607.7 L125.7,604.5 L128.2,601.3 L130.8,598.2 L133.3,595.0 L135.9,591.9 L138.4,588.7 L141.0,585.6 L143.6,582.4 L146.2,579.3 L148.8,576.1 L151.4,573.0 L154.0,569.9 L156.6,566.8 L159.2,563.7 L161.8,560.6 L164.5,557.5 L167.1,554.4 L169.8,551.3 L172.5,548.3 L175.2,545.2 L177.9,542.2 L180.6,539.2 L183.3,536.2 L186.0,533.2 L188.8,530.2 L191.5,527.2 L194.3,524.2 L197.1,521.3 L199.9,518.4 L202.7,515.4 L205.5,512.5 L208.4,509.7 L211.2,506.8 L214.1,504.0 L217.0,501.1 L219.9,498.3 L222.8,495.5 L225.8,492.7 L228.7,490.0 L231.7,487.3 L234.7,484.5 L237.7,481.8 L240.7,479.2 L243.8,476.5 L246.8,473.9 L249.9,471.3 L253.0,468.7 L256.1,466.2 L259.3,463.6 L262.4,461.1 L265.6,458.7 L268.8,456.2 L272.0,453.8 L275.3,451.4 L278.5,449.0 L281.8,446.6 L285.1,444.3 L288.4,442.0 L291.8,439.7 L295.1,437.5 L298.5,435.3 L301.9,433.1 L305.3,430.9 L308.7,428.8 L312.2,426.7 L315.6,424.6 L319.1,422.5 L322.6,420.5 L326.1,418.5 L329.6,416.5 L333.2,414.6 L336.8,412.7 L340.3,410.8 L343.9,408.9 L347.6,407.1 L351.2,405.3 L354.9,403.6 L358.5,401.8 L362.2,400.1 L365.9,398.4 L369.6,396.8 L373.3,395.2 L377.1,393.6 L380.9,392.0 L384.6,390.5 L388.4,389.0 L392.2,387.6 L396.1,386.1 L399.9,384.7 L403.7,383.4 L407.6,382.0 L411.5,380.7 L415.4,379.5 L419.3,378.2 L423.2,377.0" fill="none" stroke="#17823f" stroke-width="3.9" stroke-linejoin="round"/>
<path d="M103.0,633.0 L105.7,630.0 L108.4,627.1 L111.1,624.1 L113.8,621.1 L116.5,618.1 L119.2,615.1 L122.0,612.1 L124.7,609.1 L127.5,606.1 L130.3,603.1 L133.1,600.1 L135.9,597.1 L138.7,594.2 L141.6,591.2 L144.4,588.3 L147.3,585.4 L150.2,582.5 L153.2,579.6 L156.1,576.8 L159.1,574.0 L162.1,571.2 L165.1,568.4 L168.2,565.7 L171.3,563.0 L174.4,560.4 L177.5,557.8 L180.7,555.2 L183.9,552.7 L187.1,550.2 L190.4,547.8 L193.7,545.4 L197.0,543.1 L200.3,540.9 L203.7,538.7 L207.1,536.5 L210.5,534.4 L214.0,532.4 L217.5,530.4 L221.0,528.4 L224.5,526.5 L228.1,524.6 L231.6,522.8 L235.2,521.0 L238.9,519.3 L242.5,517.6 L246.2,515.9 L249.9,514.2 L253.6,512.6 L257.3,511.0 L261.0,509.4 L264.8,507.9 L268.5,506.3 L272.3,504.8 L276.1,503.3 L279.9,501.8 L283.7,500.4 L287.6,499.0 L291.4,497.5 L295.3,496.1 L299.2,494.8 L303.0,493.4 L306.9,492.0 L310.8,490.7 L314.7,489.4 L318.6,488.0 L322.5,486.7 L326.4,485.4 L330.3,484.2 L334.3,482.9 L338.2,481.6 L342.1,480.4 L346.0,479.2 L350.0,478.0 L353.9,476.8 L357.8,475.6 L361.7,474.5 L365.7,473.4 L369.6,472.3 L373.5,471.3 L377.4,470.3 L381.3,469.3 L385.2,468.3 L389.1,467.4 L393.0,466.5 L396.8,465.7 L400.7,464.9" fill="none" stroke="#e41f26" stroke-width="3.9" stroke-linejoin="round"/>
<path d="M103.0,633.0 L105.0,629.5 L107.1,626.0 L109.1,622.6 L111.2,619.1 L113.3,615.6 L115.4,612.2 L117.5,608.7 L119.6,605.3 L121.8,601.9 L123.9,598.4 L126.1,595.0 L128.3,591.6 L130.5,588.2 L132.7,584.8 L135.0,581.4 L137.2,578.0 L139.5,574.6 L141.7,571.2 L144.0,567.8 L146.3,564.5 L148.7,561.1 L151.0,557.8 L153.4,554.4 L155.7,551.1 L158.1,547.8 L160.5,544.5 L162.9,541.2 L165.4,537.9 L167.8,534.6 L170.3,531.4 L172.8,528.1 L175.3,524.9 L177.8,521.6 L180.3,518.4 L182.9,515.2 L185.4,512.0 L188.0,508.9 L190.6,505.7 L193.2,502.6 L195.9,499.4 L198.5,496.3 L201.2,493.2 L203.9,490.1 L206.6,487.1 L209.3,484.0 L212.0,481.0 L214.8,477.9 L217.6,474.9 L220.3,471.9 L223.2,469.0 L226.0,466.0 L228.8,463.1 L231.7,460.2 L234.6,457.3 L237.5,454.4 L240.4,451.5 L243.3,448.7 L246.3,445.8 L249.2,443.0 L252.2,440.3 L255.2,437.5 L258.3,434.7 L261.3,432.0 L264.4,429.3 L267.5,426.7 L270.6,424.0 L273.7,421.4 L276.9,418.8 L280.0,416.2 L283.2,413.6 L286.4,411.1 L289.6,408.6 L292.9,406.2 L296.1,403.7 L299.4,401.3 L302.7,399.0 L306.1,396.6 L309.4,394.3 L312.8,392.1 L316.1,389.8 L319.6,387.7 L323.0,385.5 L326.4,383.4 L329.9,381.3 L333.4,379.3 L336.9,377.3 L340.4,375.4 L344.0,373.5 L347.5,371.6 L351.1,369.8 L354.8,368.0 L358.4,366.3 L362.1,364.6 L365.7,363.0" fill="none" stroke="#3a52a4" stroke-width="3.9" stroke-linejoin="round"/>
<path d="M104.0,634.0 L106.7,630.9 L109.5,627.9 L112.2,624.9 L115.1,621.9 L118.0,619.0 L120.9,616.2 L123.8,613.3 L126.8,610.6 L129.9,607.8 L132.9,605.1 L136.0,602.5 L139.2,599.9 L142.3,597.3 L145.6,594.8 L148.8,592.3 L152.1,589.9 L155.4,587.5 L158.7,585.2 L162.1,582.9 L165.5,580.7 L169.0,578.4 L172.4,576.3 L175.9,574.2 L179.4,572.1 L183.0,570.1 L186.6,568.1 L190.2,566.2 L193.8,564.3 L197.4,562.4 L201.1,560.7 L204.8,558.9 L208.5,557.2 L212.2,555.6 L216.0,553.9 L219.8,552.4 L223.6,550.9 L227.4,549.4 L231.2,548.0 L235.1,546.6 L239.0,545.3 L242.8,544.0 L246.7,542.8 L250.7,541.6 L254.6,540.5 L258.5,539.4 L262.5,538.3 L266.4,537.4 L270.4,536.4 L274.4,535.5 L278.4,534.7 L282.4,533.9 L286.4,533.1 L290.4,532.4 L294.5,531.8 L298.5,531.2" fill="none" stroke="#000" stroke-width="3.9" stroke-linejoin="round"/>
<circle cx="225.2" cy="550.4" r="6.3" fill="#000"/>
<circle cx="238" cy="546" r="6.3" fill="#000"/>
<circle cx="245" cy="542" r="6.3" fill="#000"/>
<circle cx="311.7" cy="530.7" r="6.3" fill="#000"/>
<circle cx="320.1" cy="530.7" r="6.3" fill="#000"/>
<circle cx="611.3" cy="563.2" r="8.45" fill="none" stroke="#000" stroke-width="3.3"/>
<circle cx="607.4" cy="577.9" r="8.45" fill="none" stroke="#000" stroke-width="3.3"/>
<circle cx="602.5" cy="582.7" r="8.45" fill="none" stroke="#000" stroke-width="3.3"/>
<circle cx="600.5" cy="604.2" r="8.45" fill="none" stroke="#000" stroke-width="3.3"/>
<circle cx="590.8" cy="609.1" r="8.45" fill="none" stroke="#000" stroke-width="3.3"/>
<circle cx="585.9" cy="614" r="8.45" fill="none" stroke="#000" stroke-width="3.3"/>
<circle cx="581" cy="626.7" r="8.45" fill="none" stroke="#000" stroke-width="3.3"/>
<circle cx="576.1" cy="619.8" r="8.45" fill="none" stroke="#000" stroke-width="3.3"/>
<rect x="565.44" y="503.74" width="17.51" height="17.51" fill="none" stroke="#e41f26" stroke-width="2.9"/>
<rect x="566.44" y="510.54" width="17.51" height="17.51" fill="none" stroke="#e41f26" stroke-width="2.9"/>
<rect x="567.34" y="518.34" width="17.51" height="17.51" fill="none" stroke="#e41f26" stroke-width="2.9"/>
<rect x="561.54" y="546.64" width="17.51" height="17.51" fill="none" stroke="#e41f26" stroke-width="2.9"/>
<rect x="563.44" y="554.44" width="17.51" height="17.51" fill="none" stroke="#e41f26" stroke-width="2.9"/>
<rect x="563.44" y="568.14" width="17.51" height="17.51" fill="none" stroke="#e41f26" stroke-width="2.9"/>
<rect x="555.64" y="575.94" width="17.51" height="17.51" fill="none" stroke="#e41f26" stroke-width="2.9"/>
<rect x="557.64" y="597.44" width="17.51" height="17.51" fill="none" stroke="#e41f26" stroke-width="2.9"/>
<rect x="551.74" y="603.24" width="17.51" height="17.51" fill="none" stroke="#e41f26" stroke-width="2.9"/>
<path d="M533.2,500.21 L543.49,510.5 L533.2,520.79 L522.91,510.5Z" fill="none" stroke="#17823f" stroke-width="3"/>
<path d="M511.7,533.41 L521.99,543.7 L511.7,553.99 L501.41,543.7Z" fill="none" stroke="#17823f" stroke-width="3"/>
<path d="M532.2,519.71 L542.49,530 L532.2,540.29 L521.91,530Z" fill="none" stroke="#17823f" stroke-width="3"/>
<path d="M531.2,549.01 L541.49,559.3 L531.2,569.59 L520.91,559.3Z" fill="none" stroke="#17823f" stroke-width="3"/>
<path d="M534.2,569.51 L544.49,579.8 L534.2,590.09 L523.91,579.8Z" fill="none" stroke="#17823f" stroke-width="3"/>
<path d="M536.1,586.11 L546.39,596.4 L536.1,606.69 L525.81,596.4Z" fill="none" stroke="#17823f" stroke-width="3"/>
<path d="M533.2,593.91 L543.49,604.2 L533.2,614.49 L522.91,604.2Z" fill="none" stroke="#17823f" stroke-width="3"/>
<path d="M519.5,611.51 L529.79,621.8 L519.5,632.09 L509.21,621.8Z" fill="none" stroke="#17823f" stroke-width="3"/>
<path d="M530.3,597.81 L540.59,608.1 L530.3,618.39 L520.01,608.1Z" fill="none" stroke="#17823f" stroke-width="3"/>
<path d="M527,585.71 L537.29,596 L527,606.29 L516.71,596Z" fill="none" stroke="#17823f" stroke-width="3"/>
<path d="M524,604.71 L534.29,615 L524,625.29 L513.71,615Z" fill="none" stroke="#17823f" stroke-width="3"/>
<path d="M467.8,470.51 L478.21,489.00 L457.39,489.00Z" fill="none" stroke="#3a52a4" stroke-width="3.2" stroke-miterlimit="10"/>
<path d="M482,490.01 L492.41,508.50 L471.59,508.50Z" fill="none" stroke="#3a52a4" stroke-width="3.2" stroke-miterlimit="10"/>
<path d="M469.6,508.31 L480.01,526.80 L459.19,526.80Z" fill="none" stroke="#3a52a4" stroke-width="3.2" stroke-miterlimit="10"/>
<path d="M456.1,524.11 L466.51,542.61 L445.69,542.61Z" fill="none" stroke="#3a52a4" stroke-width="3.2" stroke-miterlimit="10"/>
<path d="M496.7,544.41 L507.11,562.90 L486.29,562.90Z" fill="none" stroke="#3a52a4" stroke-width="3.2" stroke-miterlimit="10"/>
<path d="M487.7,546.61 L498.11,565.11 L477.29,565.11Z" fill="none" stroke="#3a52a4" stroke-width="3.2" stroke-miterlimit="10"/>
<path d="M501.2,580.41 L511.61,598.90 L490.79,598.90Z" fill="none" stroke="#3a52a4" stroke-width="3.2" stroke-miterlimit="10"/>
<path d="M485.4,593.91 L495.81,612.40 L474.99,612.40Z" fill="none" stroke="#3a52a4" stroke-width="3.2" stroke-miterlimit="10"/>
<path d="M492.2,609.71 L502.61,628.20 L481.79,628.20Z" fill="none" stroke="#3a52a4" stroke-width="3.2" stroke-miterlimit="10"/>
<path d="M468.6,377.0 L472.0,379.5 L475.3,382.2 L478.4,385.0 L481.4,387.9 L484.2,390.8 L486.8,393.9 L489.3,397.0 L491.7,400.3 L494.0,403.6 L496.1,406.9 L498.1,410.4 L500.0,413.9 L501.8,417.5 L503.5,421.1 L505.0,424.8 L506.5,428.6 L507.9,432.4 L509.1,436.3 L510.3,440.1 L511.4,444.1 L512.5,448.0 L513.4,452.0 L514.3,456.1 L515.1,460.1 L515.9,464.2 L516.6,468.2 L517.2,472.3 L517.8,476.4 L518.3,480.6 L518.8,484.7 L519.3,488.8 L519.7,493.0 L520.0,497.1 L520.4,501.3 L520.6,505.5 L520.9,509.7 L521.1,513.8 L521.3,518.0 L521.5,522.2 L521.6,526.4 L521.7,530.6 L521.9,534.8 L521.9,539.0 L522.0,543.2 L522.1,547.4 L522.1,551.6 L522.1,555.8 L522.2,560.0 L522.2,564.1 L522.2,568.3 L522.3,572.5 L522.3,576.6 L522.3,580.8 L522.4,584.9 L522.4,589.0 L522.5,593.2 L522.6,597.3 L522.7,601.3 L522.8,605.4 L523.0,609.5 L523.1,613.5 L523.3,617.6 L523.5,621.6 L523.8,625.6 L524.1,629.5 L524.4,633.5" fill="none" stroke="#17823f" stroke-width="3.9" stroke-linejoin="round"/>
<path d="M537.2,462.9 L540.1,466.2 L542.7,469.6 L545.0,473.1 L547.1,476.7 L549.0,480.3 L550.6,484.0 L552.0,487.7 L553.3,491.6 L554.3,495.4 L555.2,499.3 L556.0,503.3 L556.6,507.3 L557.0,511.3 L557.4,515.4 L557.7,519.5 L557.8,523.6 L557.9,527.8 L558.0,532.0 L557.9,536.2 L557.8,540.5 L557.7,544.7 L557.4,549.0 L557.2,553.3 L556.9,557.6 L556.6,561.9 L556.2,566.2 L555.8,570.5 L555.5,574.8 L555.1,579.2 L554.7,583.5 L554.3,587.7 L554.0,592.0 L553.6,596.3 L553.3,600.5 L553.0,604.7 L552.8,608.9 L552.6,613.1 L552.4,617.2 L552.4,621.4 L552.3,625.4 L552.4,629.5 L552.5,633.4 L552.7,637.4" fill="none" stroke="#e41f26" stroke-width="3.9" stroke-linejoin="round"/>
<path d="M423.5,362.3 L426.7,365.1 L429.7,368.0 L432.5,370.9 L435.3,373.9 L438.0,377.0 L440.5,380.1 L442.9,383.3 L445.3,386.5 L447.5,389.8 L449.6,393.2 L451.7,396.6 L453.6,400.1 L455.5,403.6 L457.2,407.2 L458.9,410.8 L460.5,414.5 L462.0,418.2 L463.5,422.0 L464.8,425.7 L466.1,429.6 L467.4,433.4 L468.5,437.3 L469.6,441.2 L470.7,445.2 L471.7,449.1 L472.6,453.1 L473.5,457.1 L474.4,461.1 L475.2,465.2 L475.9,469.2 L476.6,473.3 L477.3,477.4 L478.0,481.5 L478.6,485.5 L479.2,489.6 L479.7,493.7 L480.3,497.8 L480.8,501.9 L481.3,506.1 L481.8,510.2 L482.2,514.3 L482.7,518.4 L483.1,522.5 L483.5,526.6 L483.9,530.7 L484.3,534.8 L484.7,539.0 L485.1,543.1 L485.5,547.2 L485.9,551.3 L486.3,555.4 L486.7,559.5 L487.1,563.6 L487.5,567.6 L487.9,571.7 L488.4,575.8 L488.8,579.9 L489.3,583.9 L489.7,588.0 L490.2,592.0 L490.8,596.0 L491.3,600.1 L491.9,604.1 L492.5,608.1 L493.1,612.0 L493.7,616.0 L494.4,620.0 L495.2,623.9 L495.9,627.9 L496.7,631.8" fill="none" stroke="#3a52a4" stroke-width="3.9" stroke-linejoin="round"/>
<path d="M532.2,532.0 L584.9,538.8 L585.9,545.6 L564.4,634.5" fill="none" stroke="#000" stroke-width="3.9" stroke-linejoin="round"/>
<path d="M513.6,398.30 L520.10,404.8 L513.6,411.30 L507.10,404.8Z" fill="#17823f"/>
<path d="M523.3,414.80 L529.80,421.3 L523.3,427.80 L516.80,421.3Z" fill="#17823f"/>
<path d="M529.3,436.50 L535.80,443 L529.3,449.50 L522.80,443Z" fill="#17823f"/>
<path d="M533.1,457.60 L539.60,464.1 L533.1,470.60 L526.60,464.1Z" fill="#17823f"/>
<path d="M534.6,487.60 L541.10,494.1 L534.6,500.60 L528.10,494.1Z" fill="#17823f"/>
<path d="M534.2,568.40 L540.70,574.9 L534.2,581.40 L527.70,574.9Z" fill="#17823f"/>
<path d="M531.2,599.70 L537.70,606.2 L531.2,612.70 L524.70,606.2Z" fill="#17823f"/>
<path d="M529,593.50 L535.50,600 L529,606.50 L522.50,600Z" fill="#17823f"/>
<rect x="532.95" y="460.45" width="10.3" height="10.3" fill="#e41f26"/>
<rect x="544.65" y="463.35" width="10.3" height="10.3" fill="#e41f26"/>
<rect x="555.35" y="469.25" width="10.3" height="10.3" fill="#e41f26"/>
<rect x="566.05" y="475.15" width="10.3" height="10.3" fill="#e41f26"/>
<rect x="569.05" y="490.75" width="10.3" height="10.3" fill="#e41f26"/>
<rect x="567.05" y="522.95" width="10.3" height="10.3" fill="#e41f26"/>
<rect x="564.15" y="540.45" width="10.3" height="10.3" fill="#e41f26"/>
<rect x="560.25" y="560.05" width="10.3" height="10.3" fill="#e41f26"/>
<rect x="556.35" y="589.25" width="10.3" height="10.3" fill="#e41f26"/>
<rect x="549.55" y="628.35" width="10.3" height="10.3" fill="#e41f26"/>
<path d="M476,412.45 L482.85,424.15 L469.15,424.15Z" fill="#3a52a4"/>
<path d="M491,452.15 L497.85,463.85 L484.15,463.85Z" fill="#3a52a4"/>
<path d="M496.7,515.55 L503.55,527.25 L489.85,527.25Z" fill="#3a52a4"/>
<path d="M498.9,556.15 L505.75,567.85 L492.05,567.85Z" fill="#3a52a4"/>
<path d="M498.9,594.45 L505.75,606.15 L492.05,606.15Z" fill="#3a52a4"/>
<circle cx="606.4" cy="542.7" r="6.3" fill="#000"/>
<circle cx="600.5" cy="555.4" r="6.3" fill="#000"/>
<circle cx="580" cy="614" r="6.3" fill="#000"/>
<circle cx="576.1" cy="632.5" r="6.3" fill="#000"/>
<circle cx="574.2" cy="642.3" r="6.3" fill="#000"/>
<circle cx="113.1" cy="945.5" r="8.45" fill="none" stroke="#000" stroke-width="3.3"/>
<circle cx="123.6" cy="930.8" r="8.45" fill="none" stroke="#000" stroke-width="3.3"/>
<circle cx="134.1" cy="918.2" r="8.45" fill="none" stroke="#000" stroke-width="3.3"/>
<circle cx="153.1" cy="886.6" r="8.45" fill="none" stroke="#000" stroke-width="3.3"/>
<circle cx="185.6" cy="860.4" r="8.45" fill="none" stroke="#000" stroke-width="3.3"/>
<rect x="93.30" y="932.00" width="14.40" height="14.40" fill="none" stroke="#e41f26" stroke-width="2.9"/>
<rect x="108.00" y="925.70" width="14.40" height="14.40" fill="none" stroke="#e41f26" stroke-width="2.9"/>
<rect x="110.10" y="902.60" width="14.40" height="14.40" fill="none" stroke="#e41f26" stroke-width="2.9"/>
<rect x="128.00" y="879.40" width="14.40" height="14.40" fill="none" stroke="#e41f26" stroke-width="2.9"/>
<rect x="145.90" y="847.90" width="14.40" height="14.40" fill="none" stroke="#e41f26" stroke-width="2.9"/>
<rect x="157.40" y="838.40" width="14.40" height="14.40" fill="none" stroke="#e41f26" stroke-width="2.9"/>
<rect x="165.80" y="821.60" width="14.40" height="14.40" fill="none" stroke="#e41f26" stroke-width="2.9"/>
<rect x="189.00" y="788.00" width="14.40" height="14.40" fill="none" stroke="#e41f26" stroke-width="2.9"/>
<path d="M100,926.60 L108.40,935 L100,943.40 L91.60,935Z" fill="none" stroke="#17823f" stroke-width="3"/>
<path d="M105.8,918.20 L114.20,926.6 L105.8,935.00 L97.40,926.6Z" fill="none" stroke="#17823f" stroke-width="3"/>
<path d="M119.4,895.10 L127.80,903.5 L119.4,911.90 L111.00,903.5Z" fill="none" stroke="#17823f" stroke-width="3"/>
<path d="M142.6,852.00 L151.00,860.4 L142.6,868.80 L134.20,860.4Z" fill="none" stroke="#17823f" stroke-width="3"/>
<path d="M159.4,825.70 L167.80,834.1 L159.4,842.50 L151.00,834.1Z" fill="none" stroke="#17823f" stroke-width="3"/>
<path d="M178.3,785.70 L186.70,794.1 L178.3,802.50 L169.90,794.1Z" fill="none" stroke="#17823f" stroke-width="3"/>
<path d="M195.1,760.50 L203.50,768.9 L195.1,777.30 L186.70,768.9Z" fill="none" stroke="#17823f" stroke-width="3"/>
<path d="M106.8,941.05 L115.20,955.75 L98.40,955.75Z" fill="none" stroke="#3a52a4" stroke-width="3.2" stroke-miterlimit="10"/>
<path d="M119.4,907.45 L127.80,922.15 L111.00,922.15Z" fill="none" stroke="#3a52a4" stroke-width="3.2" stroke-miterlimit="10"/>
<path d="M130,877.95 L138.40,892.65 L121.60,892.65Z" fill="none" stroke="#3a52a4" stroke-width="3.2" stroke-miterlimit="10"/>
<path d="M137.3,854.85 L145.70,869.55 L128.90,869.55Z" fill="none" stroke="#3a52a4" stroke-width="3.2" stroke-miterlimit="10"/>
<path d="M157.3,827.55 L165.70,842.25 L148.90,842.25Z" fill="none" stroke="#3a52a4" stroke-width="3.2" stroke-miterlimit="10"/>
<path d="M195.1,756.05 L203.50,770.75 L186.70,770.75Z" fill="none" stroke="#3a52a4" stroke-width="3.2" stroke-miterlimit="10"/>
<path d="M100.0,957.0 L101.7,953.3 L103.4,949.6 L105.1,945.9 L106.9,942.2 L108.6,938.5 L110.3,934.8 L112.0,931.0 L113.8,927.3 L115.5,923.6 L117.3,919.9 L119.0,916.2 L120.8,912.5 L122.5,908.9 L124.3,905.2 L126.1,901.5 L127.8,897.8 L129.6,894.1 L131.4,890.4 L133.2,886.7 L135.0,883.1 L136.8,879.4 L138.7,875.7 L140.5,872.0 L142.3,868.4 L144.2,864.7 L146.0,861.1 L147.9,857.4 L149.7,853.8 L151.6,850.1 L153.5,846.5 L155.4,842.8 L157.3,839.2 L159.2,835.6 L161.1,832.0 L163.0,828.4 L165.0,824.8 L166.9,821.1 L168.9,817.5 L170.8,814.0 L172.8,810.4 L174.8,806.8 L176.8,803.2 L178.8,799.7 L180.8,796.1 L182.8,792.5 L184.9,789.0 L186.9,785.5 L189.0,781.9 L191.1,778.4 L193.2,774.9 L195.3,771.4 L197.4,767.9 L199.5,764.4 L201.6,760.9 L203.8,757.4 L206.0,753.9 L208.1,750.5 L210.3,747.0 L212.5,743.6 L214.8,740.1 L217.0,736.7 L219.2,733.3 L221.5,729.9 L223.8,726.5 L226.1,723.1 L228.4,719.7 L230.7,716.4 L233.0,713.0 L235.4,709.6 L237.8,706.3 L240.1,703.0 L242.5,699.7 L245.0,696.4 L247.4,693.1 L249.8,689.8 L252.3,686.5 L254.8,683.2 L257.3,680.0" fill="none" stroke="#17823f" stroke-width="3.9" stroke-linejoin="round"/>
<path d="M100.0,957.5 L101.8,953.9 L103.7,950.3 L105.6,946.7 L107.5,943.1 L109.4,939.5 L111.3,935.9 L113.2,932.3 L115.1,928.7 L117.1,925.2 L119.1,921.6 L121.0,918.1 L123.0,914.5 L125.0,911.0 L127.0,907.5 L129.1,903.9 L131.1,900.4 L133.1,896.9 L135.2,893.4 L137.3,889.9 L139.4,886.4 L141.5,882.9 L143.6,879.4 L145.7,876.0 L147.8,872.5 L150.0,869.1 L152.1,865.6 L154.3,862.2 L156.5,858.7 L158.7,855.3 L160.9,851.9 L163.1,848.5 L165.3,845.1 L167.6,841.7 L169.8,838.3 L172.1,834.9 L174.4,831.6 L176.7,828.2 L179.0,824.9 L181.3,821.5 L183.6,818.2 L186.0,814.8 L188.3,811.5 L190.7,808.2 L193.0,804.9 L195.4,801.6 L197.8,798.3 L200.2,795.0 L202.6,791.8 L205.1,788.5 L207.5,785.2 L209.9,782.0 L212.4,778.8 L214.9,775.5 L217.4,772.3 L219.9,769.1 L222.4,765.9 L224.9,762.7 L227.4,759.5 L230.0,756.3 L232.5,753.2 L235.1,750.0 L237.6,746.9 L240.2,743.7 L242.8,740.6 L245.4,737.5 L248.1,734.4 L250.7,731.3 L253.3,728.2 L256.0,725.1 L258.6,722.0 L261.3,718.9 L264.0,715.9 L266.7,712.8 L269.4,709.8 L272.1,706.8 L274.8,703.8 L277.6,700.8 L280.3,697.8 L283.1,694.8 L285.8,691.8 L288.6,688.8 L291.4,685.9 L294.2,682.9 L297.0,680.0" fill="none" stroke="#e41f26" stroke-width="3.9" stroke-linejoin="round"/>
<path d="M100.0,957.0 L101.6,953.3 L103.2,949.5 L104.8,945.8 L106.4,942.0 L107.9,938.3 L109.5,934.6 L111.1,930.8 L112.7,927.1 L114.3,923.3 L115.9,919.6 L117.6,915.9 L119.2,912.1 L120.8,908.4 L122.4,904.7 L124.0,900.9 L125.7,897.2 L127.3,893.5 L129.0,889.8 L130.6,886.0 L132.3,882.3 L133.9,878.6 L135.6,874.9 L137.3,871.2 L138.9,867.5 L140.6,863.8 L142.3,860.1 L144.0,856.4 L145.7,852.7 L147.5,849.0 L149.2,845.3 L150.9,841.6 L152.7,837.9 L154.4,834.3 L156.2,830.6 L158.0,826.9 L159.8,823.3 L161.6,819.6 L163.4,816.0 L165.2,812.3 L167.0,808.7 L168.8,805.1 L170.7,801.4 L172.6,797.8 L174.4,794.2 L176.3,790.6 L178.2,787.0 L180.1,783.4 L182.1,779.9 L184.0,776.3 L185.9,772.7 L187.9,769.2 L189.9,765.6 L191.9,762.1 L193.9,758.5 L195.9,755.0 L198.0,751.5 L200.0,748.0 L202.1,744.5 L204.2,741.0 L206.3,737.5 L208.4,734.1 L210.5,730.6 L212.7,727.2 L214.8,723.7 L217.0,720.3 L219.2,716.9 L221.5,713.5 L223.7,710.1 L226.0,706.7 L228.2,703.3 L230.5,699.9 L232.8,696.6 L235.2,693.2 L237.5,689.9 L239.9,686.6 L242.3,683.3 L244.7,680.0" fill="none" stroke="#3a52a4" stroke-width="3.9" stroke-linejoin="round"/>
<path d="M100.0,957.5 L102.0,953.9 L104.0,950.4 L106.1,946.8 L108.1,943.3 L110.2,939.8 L112.3,936.3 L114.5,932.8 L116.6,929.4 L118.8,925.9 L121.0,922.5 L123.2,919.0 L125.4,915.6 L127.7,912.2 L129.9,908.8 L132.2,905.5 L134.5,902.1 L136.9,898.8 L139.2,895.4 L141.6,892.1 L143.9,888.8 L146.3,885.5 L148.7,882.2 L151.2,878.9 L153.6,875.7 L156.1,872.4 L158.6,869.2 L161.1,866.0 L163.6,862.8 L166.1,859.6 L168.6,856.4 L171.2,853.2 L173.8,850.1 L176.4,846.9 L179.0,843.8 L181.6,840.7 L184.2,837.6 L186.9,834.5 L189.6,831.4 L192.2,828.3 L194.9,825.2 L197.6,822.2 L200.4,819.1 L203.1,816.1 L205.8,813.1 L208.6,810.1 L211.4,807.1 L214.2,804.1 L217.0,801.1 L219.8,798.1 L222.6,795.2 L225.4,792.2 L228.3,789.3 L231.1,786.4 L234.0,783.5 L236.9,780.6 L239.8,777.7 L242.7,774.8 L245.6,771.9 L248.5,769.1 L251.4,766.2 L254.4,763.4 L257.3,760.6 L260.3,757.7 L263.3,754.9 L266.3,752.1 L269.2,749.3 L272.2,746.6 L275.3,743.8 L278.3,741.0 L281.3,738.3 L284.3,735.5 L287.4,732.8 L290.4,730.1 L293.5,727.4 L296.5,724.7 L299.6,722.0 L302.7,719.3 L305.7,716.6 L308.8,713.9 L311.9,711.3 L315.0,708.6 L318.1,706.0 L321.3,703.3 L324.4,700.7 L327.5,698.1 L330.6,695.5 L333.8,692.9 L336.9,690.3 L340.0,687.7 L343.2,685.1 L346.3,682.6 L349.5,680.0" fill="none" stroke="#000" stroke-width="3.9" stroke-linejoin="round"/>
<circle cx="559.8" cy="859.8" r="8.45" fill="none" stroke="#000" stroke-width="3.3"/>
<circle cx="566.2" cy="886.8" r="8.45" fill="none" stroke="#000" stroke-width="3.3"/>
<circle cx="572.6" cy="918.1" r="8.45" fill="none" stroke="#000" stroke-width="3.3"/>
<circle cx="570.5" cy="929.5" r="8.45" fill="none" stroke="#000" stroke-width="3.3"/>
<circle cx="573.3" cy="943.7" r="8.45" fill="none" stroke="#000" stroke-width="3.3"/>
<circle cx="569.1" cy="943.7" r="8.45" fill="none" stroke="#000" stroke-width="3.3"/>
<rect x="504.80" y="787.20" width="14.40" height="14.40" fill="none" stroke="#e41f26" stroke-width="2.9"/>
<rect x="513.40" y="819.30" width="14.40" height="14.40" fill="none" stroke="#e41f26" stroke-width="2.9"/>
<rect x="539.10" y="834.10" width="14.40" height="14.40" fill="none" stroke="#e41f26" stroke-width="2.9"/>
<rect x="539.80" y="848.10" width="14.40" height="14.40" fill="none" stroke="#e41f26" stroke-width="2.9"/>
<rect x="542.00" y="864.30" width="14.40" height="14.40" fill="none" stroke="#e41f26" stroke-width="2.9"/>
<rect x="542.70" y="880.60" width="14.40" height="14.40" fill="none" stroke="#e41f26" stroke-width="2.9"/>
<rect x="543.40" y="894.10" width="14.40" height="14.40" fill="none" stroke="#e41f26" stroke-width="2.9"/>
<rect x="544.10" y="907.60" width="14.40" height="14.40" fill="none" stroke="#e41f26" stroke-width="2.9"/>
<rect x="545.50" y="925.10" width="14.40" height="14.40" fill="none" stroke="#e41f26" stroke-width="2.9"/>
<rect x="546.20" y="937.90" width="14.40" height="14.40" fill="none" stroke="#e41f26" stroke-width="2.9"/>
<rect x="541.80" y="930.80" width="14.40" height="14.40" fill="none" stroke="#e41f26" stroke-width="2.9"/>
<rect x="543.80" y="942.80" width="14.40" height="14.40" fill="none" stroke="#e41f26" stroke-width="2.9"/>
<path d="M493.1,760.60 L501.50,769 L493.1,777.40 L484.70,769Z" fill="none" stroke="#17823f" stroke-width="3"/>
<path d="M493.1,784.60 L501.50,793 L493.1,801.40 L484.70,793Z" fill="none" stroke="#17823f" stroke-width="3"/>
<path d="M511,821.60 L519.40,830 L511,838.40 L502.60,830Z" fill="none" stroke="#17823f" stroke-width="3"/>
<path d="M501.5,831.10 L509.90,839.5 L501.5,847.90 L493.10,839.5Z" fill="none" stroke="#17823f" stroke-width="3"/>
<path d="M515.2,855.20 L523.60,863.6 L515.2,872.00 L506.80,863.6Z" fill="none" stroke="#17823f" stroke-width="3"/>
<path d="M521.5,879.40 L529.90,887.8 L521.5,896.20 L513.10,887.8Z" fill="none" stroke="#17823f" stroke-width="3"/>
<path d="M519.4,896.20 L527.80,904.6 L519.4,913.00 L511.00,904.6Z" fill="none" stroke="#17823f" stroke-width="3"/>
<path d="M522.6,917.60 L531.00,926 L522.6,934.40 L514.20,926Z" fill="none" stroke="#17823f" stroke-width="3"/>
<path d="M527.8,917.60 L536.20,926 L527.8,934.40 L519.40,926Z" fill="none" stroke="#17823f" stroke-width="3"/>
<path d="M522.5,935.10 L530.90,943.5 L522.5,951.90 L514.10,943.5Z" fill="none" stroke="#17823f" stroke-width="3"/>
<path d="M517.4,936.60 L525.80,945 L517.4,953.40 L509.00,945Z" fill="none" stroke="#17823f" stroke-width="3"/>
<path d="M527.8,936.60 L536.20,945 L527.8,953.40 L519.40,945Z" fill="none" stroke="#17823f" stroke-width="3"/>
<path d="M436.3,754.45 L444.70,769.15 L427.90,769.15Z" fill="none" stroke="#3a52a4" stroke-width="3.2" stroke-miterlimit="10"/>
<path d="M477.3,827.65 L485.70,842.35 L468.90,842.35Z" fill="none" stroke="#3a52a4" stroke-width="3.2" stroke-miterlimit="10"/>
<path d="M468.9,854.95 L477.30,869.65 L460.50,869.65Z" fill="none" stroke="#3a52a4" stroke-width="3.2" stroke-miterlimit="10"/>
<path d="M472.1,876.05 L480.50,890.75 L463.70,890.75Z" fill="none" stroke="#3a52a4" stroke-width="3.2" stroke-miterlimit="10"/>
<path d="M488,907.25 L496.40,921.95 L479.60,921.95Z" fill="none" stroke="#3a52a4" stroke-width="3.2" stroke-miterlimit="10"/>
<path d="M491.5,907.45 L499.90,922.15 L483.10,922.15Z" fill="none" stroke="#3a52a4" stroke-width="3.2" stroke-miterlimit="10"/>
<path d="M493,910.95 L501.40,925.65 L484.60,925.65Z" fill="none" stroke="#3a52a4" stroke-width="3.2" stroke-miterlimit="10"/>
<path d="M493.1,939.05 L501.50,953.75 L484.70,953.75Z" fill="none" stroke="#3a52a4" stroke-width="3.2" stroke-miterlimit="10"/>
<path d="M469.5,680.0 L470.8,683.9 L472.0,687.8 L473.2,691.8 L474.4,695.7 L475.6,699.6 L476.8,703.6 L477.9,707.5 L479.1,711.4 L480.2,715.4 L481.3,719.4 L482.3,723.3 L483.4,727.3 L484.4,731.3 L485.5,735.2 L486.5,739.2 L487.5,743.2 L488.4,747.2 L489.4,751.2 L490.3,755.2 L491.2,759.2 L492.2,763.2 L493.1,767.2 L493.9,771.2 L494.8,775.2 L495.6,779.3 L496.5,783.3 L497.3,787.3 L498.1,791.3 L498.9,795.4 L499.7,799.4 L500.5,803.4 L501.2,807.5 L502.0,811.5 L502.7,815.6 L503.4,819.6 L504.1,823.7 L504.8,827.7 L505.5,831.8 L506.2,835.8 L506.9,839.9 L507.5,843.9 L508.2,848.0 L508.8,852.1 L509.4,856.1 L510.0,860.2 L510.6,864.3 L511.2,868.3 L511.8,872.4 L512.4,876.5 L513.0,880.6 L513.5,884.6 L514.1,888.7 L514.6,892.8 L515.2,896.9 L515.7,900.9 L516.2,905.0 L516.7,909.1 L517.2,913.2 L517.7,917.2 L518.2,921.3 L518.7,925.4 L519.2,929.5 L519.7,933.5 L520.2,937.6 L520.7,941.7 L521.1,945.8 L521.6,949.9 L522.1,953.9 L522.5,958.0" fill="none" stroke="#17823f" stroke-width="3.9" stroke-linejoin="round"/>
<path d="M495.5,680.0 L497.0,683.8 L498.5,687.7 L499.9,691.6 L501.3,695.4 L502.7,699.3 L504.0,703.2 L505.4,707.1 L506.7,711.0 L507.9,714.9 L509.2,718.9 L510.4,722.8 L511.6,726.7 L512.7,730.7 L513.9,734.6 L515.0,738.6 L516.1,742.5 L517.2,746.5 L518.2,750.5 L519.2,754.5 L520.2,758.4 L521.2,762.4 L522.1,766.4 L523.0,770.4 L523.9,774.4 L524.8,778.5 L525.7,782.5 L526.5,786.5 L527.3,790.5 L528.1,794.6 L528.9,798.6 L529.7,802.7 L530.4,806.7 L531.1,810.8 L531.8,814.8 L532.5,818.9 L533.1,822.9 L533.8,827.0 L534.4,831.1 L535.0,835.1 L535.6,839.2 L536.2,843.3 L536.7,847.4 L537.3,851.4 L537.8,855.5 L538.3,859.6 L538.8,863.7 L539.3,867.8 L539.7,871.9 L540.2,876.0 L540.6,880.1 L541.0,884.2 L541.4,888.3 L541.8,892.4 L542.2,896.5 L542.5,900.6 L542.9,904.7 L543.2,908.8 L543.6,912.9 L543.9,917.0 L544.2,921.1 L544.5,925.2 L544.8,929.3 L545.0,933.4 L545.3,937.5 L545.6,941.6 L545.8,945.7 L546.1,949.8 L546.3,953.9 L546.5,958.0" fill="none" stroke="#e41f26" stroke-width="3.9" stroke-linejoin="round"/>
<path d="M428.3,680.0 L429.8,683.8 L431.2,687.6 L432.7,691.5 L434.1,695.3 L435.5,699.1 L436.9,703.0 L438.3,706.8 L439.6,710.7 L440.9,714.6 L442.3,718.4 L443.6,722.3 L444.8,726.2 L446.1,730.1 L447.3,734.0 L448.6,737.9 L449.8,741.8 L451.0,745.7 L452.2,749.6 L453.3,753.5 L454.5,757.4 L455.6,761.4 L456.7,765.3 L457.8,769.3 L458.9,773.2 L459.9,777.1 L461.0,781.1 L462.0,785.1 L463.0,789.0 L464.0,793.0 L465.0,797.0 L466.0,800.9 L466.9,804.9 L467.9,808.9 L468.8,812.9 L469.7,816.9 L470.6,820.9 L471.5,824.9 L472.3,828.8 L473.2,832.9 L474.0,836.9 L474.8,840.9 L475.6,844.9 L476.4,848.9 L477.2,852.9 L478.0,856.9 L478.7,861.0 L479.5,865.0 L480.2,869.0 L480.9,873.0 L481.6,877.1 L482.3,881.1 L483.0,885.1 L483.7,889.2 L484.3,893.2 L484.9,897.2 L485.6,901.3 L486.2,905.3 L486.8,909.4 L487.4,913.4 L487.9,917.5 L488.5,921.5 L489.1,925.6 L489.6,929.6 L490.1,933.7 L490.7,937.7 L491.2,941.8 L491.7,945.8 L492.2,949.9 L492.6,953.9 L493.1,958.0" fill="none" stroke="#3a52a4" stroke-width="3.9" stroke-linejoin="round"/>
<path d="M499.5,680.0 L501.5,683.6 L503.4,687.3 L505.3,691.0 L507.1,694.7 L508.9,698.4 L510.7,702.1 L512.4,705.8 L514.1,709.6 L515.8,713.3 L517.4,717.1 L519.0,720.9 L520.5,724.7 L522.0,728.5 L523.5,732.3 L524.9,736.2 L526.3,740.0 L527.7,743.9 L529.0,747.8 L530.3,751.6 L531.6,755.5 L532.8,759.5 L534.0,763.4 L535.2,767.3 L536.3,771.2 L537.4,775.2 L538.5,779.1 L539.5,783.1 L540.5,787.1 L541.5,791.0 L542.4,795.0 L543.4,799.0 L544.2,803.0 L545.1,807.1 L545.9,811.1 L546.8,815.1 L547.5,819.1 L548.3,823.2 L549.0,827.2 L549.7,831.3 L550.4,835.3 L551.0,839.4 L551.7,843.4 L552.3,847.5 L552.8,851.6 L553.4,855.6 L553.9,859.7 L554.4,863.8 L554.9,867.9 L555.4,872.0 L555.8,876.1 L556.2,880.2 L556.7,884.3 L557.0,888.4 L557.4,892.5 L557.7,896.6 L558.1,900.7 L558.4,904.8 L558.6,908.9 L558.9,913.0 L559.2,917.1 L559.4,921.2 L559.6,925.3 L559.8,929.4 L560.0,933.5 L560.2,937.6 L560.3,941.7 L560.5,945.7 L560.6,949.8 L560.7,953.9 L560.8,958.0" fill="none" stroke="#000" stroke-width="3.9" stroke-linejoin="round"/>
<line x1="213.3" y1="198" x2="256.2" y2="198" stroke="#000" stroke-width="3.9"/>
<line x1="213.3" y1="230.4" x2="256.2" y2="230.4" stroke="#e41f26" stroke-width="3.9"/>
<line x1="213.3" y1="262.8" x2="256.2" y2="262.8" stroke="#17823f" stroke-width="3.9"/>
<line x1="213.3" y1="295.2" x2="256.2" y2="295.2" stroke="#3a52a4" stroke-width="3.9"/>
<circle cx="275.9" cy="196.8" r="6.3" fill="#000"/>
<circle cx="307.7" cy="195.6" r="8.45" fill="none" stroke="#000" stroke-width="3.3"/>
<rect x="270.85" y="224.05" width="10.3" height="10.3" fill="#e41f26"/>
<rect x="300.70" y="220.10" width="14.40" height="14.40" fill="none" stroke="#e41f26" stroke-width="2.9"/>
<path d="M275.7,255.40 L282.20,261.9 L275.7,268.40 L269.20,261.9Z" fill="#17823f"/>
<path d="M307.4,250.60 L315.80,259 L307.4,267.40 L299.00,259Z" fill="none" stroke="#17823f" stroke-width="3"/>
<path d="M275.6,286.55 L282.45,298.25 L268.75,298.25Z" fill="#3a52a4"/>
<path d="M307.7,280.95 L316.10,295.65 L299.30,295.65Z" fill="none" stroke="#3a52a4" stroke-width="3.2" stroke-miterlimit="10"/>
<text x="335" y="206" font-size="30.5">313</text>
<text x="335" y="237.5" font-size="30.5">343</text>
<text x="335" y="269" font-size="30.5">392</text>
<text x="335" y="301" font-size="30.5">442</text>
<text transform="translate(654,251.5) rotate(-90)" font-size="30.7">CH<tspan font-size="20" dy="10.5">4</tspan><tspan dy="-10.5">+n-decane</tspan></text>
<text transform="translate(654,575.8) rotate(-90)" font-size="30.7">CO<tspan font-size="20" dy="10.5">2</tspan><tspan dy="-10.5">+n-decane</tspan></text>
<text transform="translate(654,932.5) rotate(-90)" font-size="30.7">CH<tspan font-size="20" dy="10.5">4</tspan><tspan dy="-10.5">+CO</tspan><tspan font-size="20" dy="10.5">2</tspan><tspan dy="-10.5">+n-decane</tspan></text>
</svg></body></html>
